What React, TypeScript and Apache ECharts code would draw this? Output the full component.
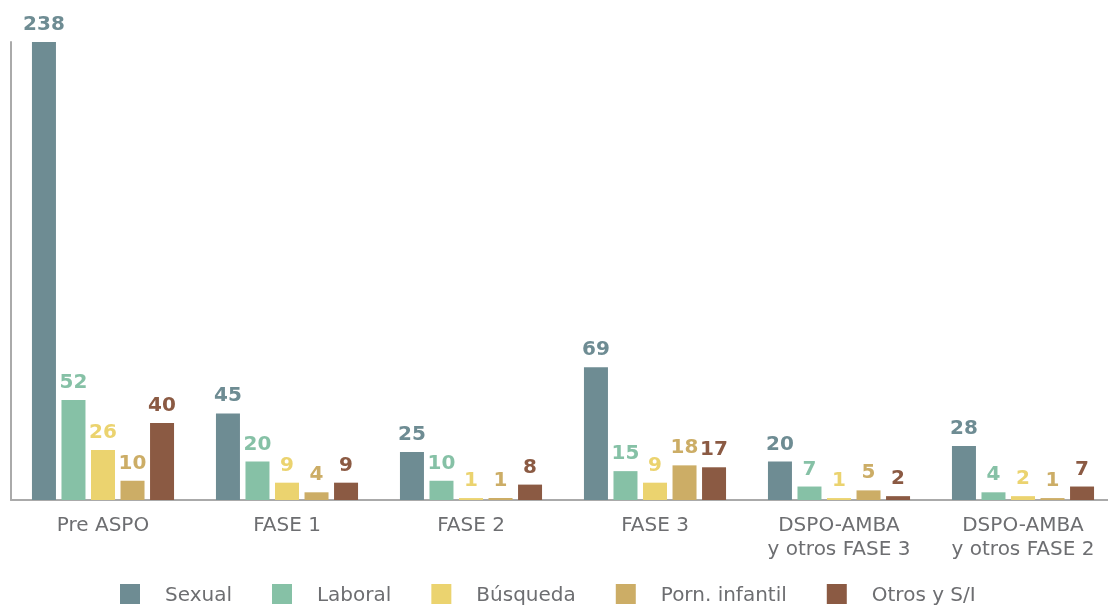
import React, { useEffect, useRef } from "react";
import * as echarts from "echarts";

const categories = ["Pre ASPO", "FASE 1", "FASE 2", "FASE 3", "DSPO-AMBA\ny otros FASE 3", "DSPO-AMBA\ny otros FASE 2"];
const seriesNames = ["Sexual", "Laboral", "Búsqueda", "Porn. infantil", "Otros y S/I"];
const sexual = [238, 45, 25, 69, 20, 28];
const laboral = [52, 20, 10, 15, 7, 4];
const busqueda = [26, 9, 1, 9, 1, 2];
const porn = [10, 4, 1, 18, 5, 1];
const otros = [40, 9, 8, 17, 2, 7];
const colors = ["#6E8C93", "#86C1A6", "#EBD36F", "#CCAD66", "#8B5A43"];

const FONT = "'DejaVu Sans', sans-serif";

export default function App() {
  const ref = useRef<HTMLDivElement>(null);
  useEffect(() => {
    const chart = echarts.init(ref.current!, null, { renderer: "svg" });
    const values = [sexual, laboral, busqueda, porn, otros];
    chart.setOption({
      animation: false,
      color: colors,
      grid: { left: 11, right: 15, top: 42, bottom: 106, containLabel: false },
      legend: {
        bottom: -3,
        left: 120,
        padding: [5, 0, 5, 0],
        itemWidth: 20,
        itemHeight: 20,
        itemGap: 40,
        icon: "rect",
        textStyle: { fontFamily: FONT, fontSize: 20, color: "#6d6e71", padding: [0, 0, 0, 20] },
        data: seriesNames,
      },
      xAxis: {
        type: "category",
        data: categories,
        axisLine: { lineStyle: { color: "#aaaaaa", width: 2 } },
        axisTick: { show: false },
        axisLabel: { interval: 0, fontFamily: FONT, fontSize: 20, color: "#6d6e71", margin: 12, lineHeight: 24 },
      },
      yAxis: {
        type: "value",
        min: 0,
        max: 238,
        axisLine: { show: true, lineStyle: { color: "#aaaaaa", width: 2 } },
        axisLabel: { show: false },
        axisTick: { show: false },
        splitLine: { show: false },
      },
      series: seriesNames.map((name, i) => ({
        name,
        type: "bar",
        data: values[i],
        barWidth: 24,
        barGap: "23%",
        itemStyle: { color: colors[i] },
        label: {
          show: true,
          position: "top",
          distance: 9,
          fontFamily: FONT,
          fontWeight: "bold",
          fontSize: 20,
          color: colors[i],
        },
      })),
    });
    return () => chart.dispose();
  }, []);
  return (
    <div
      ref={ref}
      style={{ position: "fixed", left: 0, top: 0, width: 1130, height: 606 }}
    />
  );
}
